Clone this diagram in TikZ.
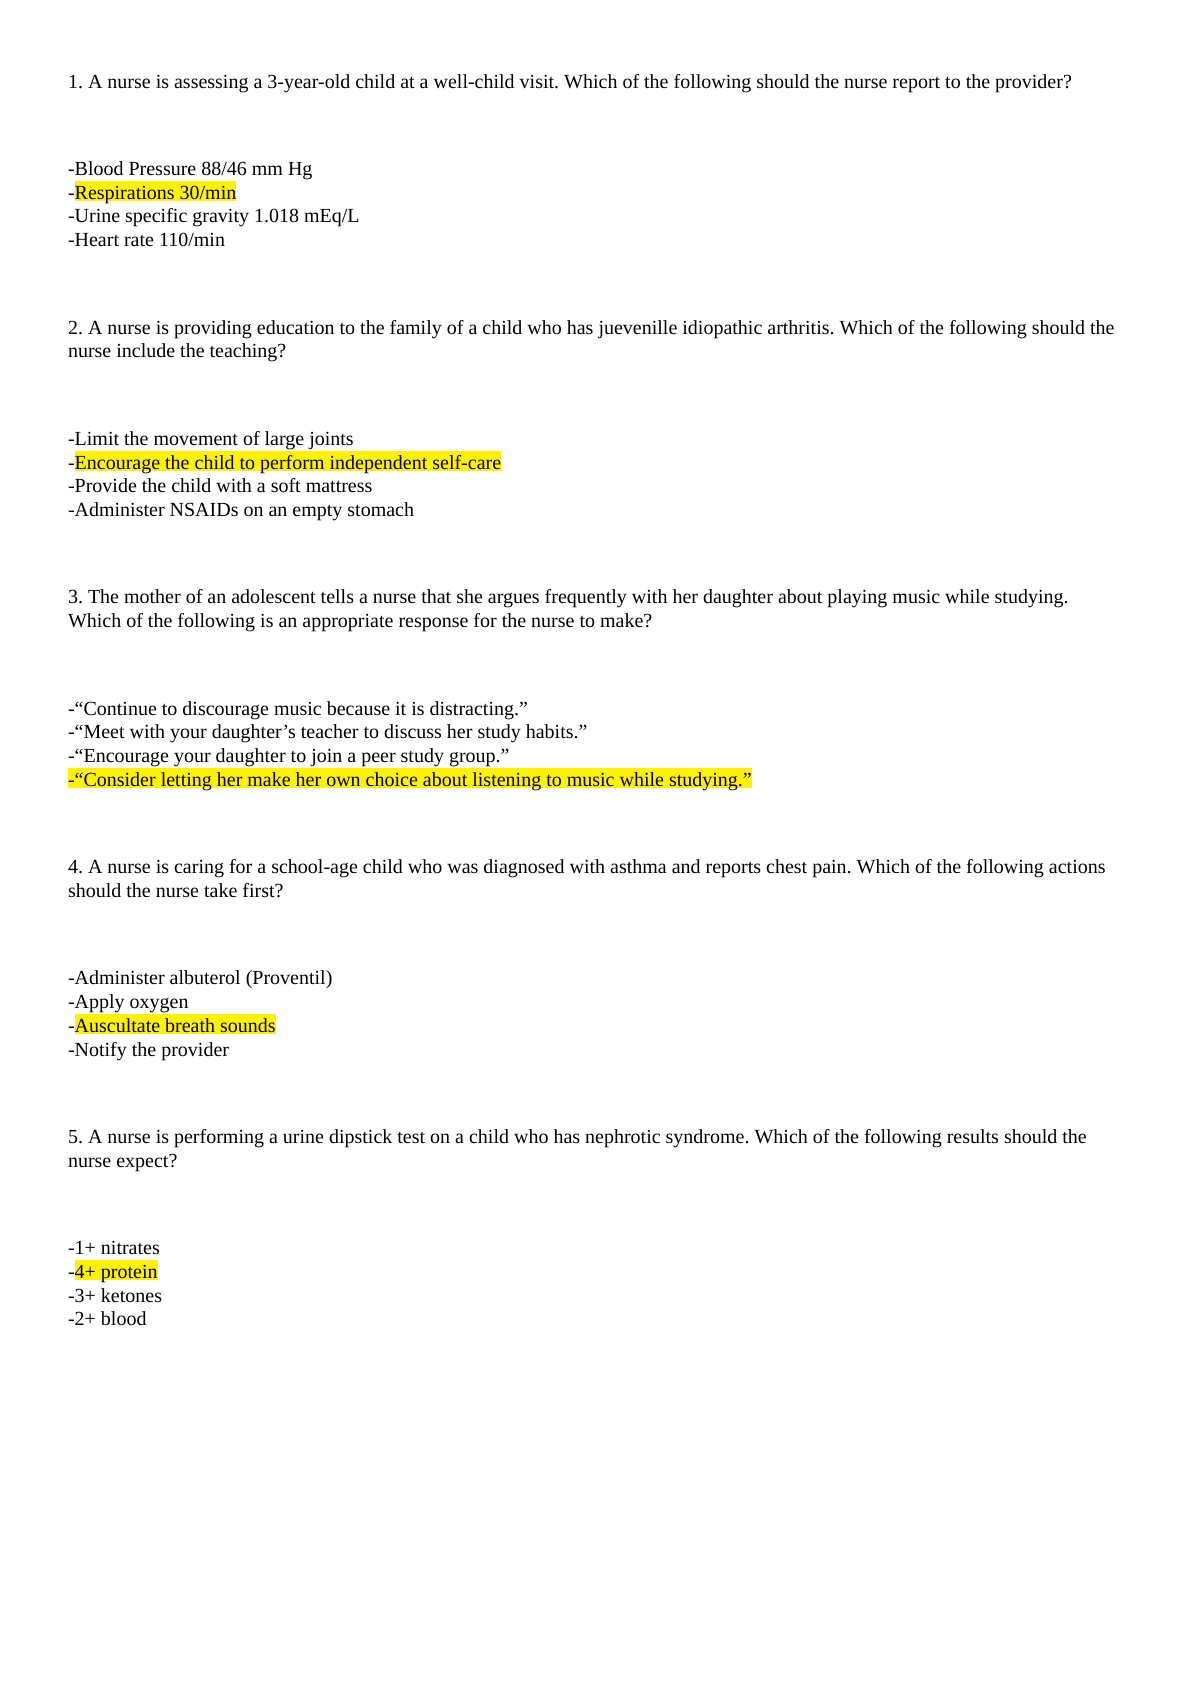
\documentclass[tikz,border=0pt]{standalone}
\usepackage{fontspec}
\setmainfont{Liberation Serif}
\frenchspacing
\begin{document}
\begin{tikzpicture}[x=1pt,y=1pt,
  txt/.style={anchor=base west,inner sep=0pt,outer sep=0pt,font=\fontsize{20}{24}\selectfont\frenchspacing},
  hl/.style={txt,fill=yellow,text height=18.5pt,text depth=2pt}]
\fill[white] (0,0) rectangle (1191,-1684);
\useasboundingbox (0,0) rectangle (1191,-1684);
% Question 1
\node[txt] (q1) at (68,-88) {1. A nurse is assessing a 3-year-old child at a well-child visit. Which of the following should the nurse report to the provider?};
\node[txt] (o11) at (68,-175.5) {-Blood Pressure 88/46 mm Hg};
\node[txt] (o12d) at (68,-199.2) {-};
\node[hl] (o12) at (o12d.base east) {Respirations 30/min};
\node[txt] (o13) at (68,-222.9) {-Urine specific gravity 1.018 mEq/L};
\node[txt] (o14) at (68,-246.6) {-Heart rate 110/min};
% Question 2
\node[txt] (q2a) at (68,-334.1) {2. A nurse is providing education to the family of a child who has juevenille idiopathic arthritis. Which of the following should the};
\node[txt] (q2b) at (68,-357.8) {nurse include the teaching?};
\node[txt] (o21) at (68,-445.3) {-Limit the movement of large joints};
\node[txt] (o22d) at (68,-469.0) {-};
\node[hl] (o22) at (o22d.base east) {Encourage the child to perform independent self-care};
\node[txt] (o23) at (68,-492.7) {-Provide the child with a soft mattress};
\node[txt] (o24) at (68,-516.4) {-Administer NSAIDs on an empty stomach};
% Question 3
\node[txt] (q3a) at (68,-603.9) {3. The mother of an adolescent tells a nurse that she argues frequently with her daughter about playing music while studying.};
\node[txt] (q3b) at (68,-627.6) {Which of the following is an appropriate response for the nurse to make?};
\node[txt] (o31) at (68,-715.1) {-“Continue to discourage music because it is distracting.”};
\node[txt] (o32) at (68,-738.8) {-“Meet with your daughter’s teacher to discuss her study habits.”};
\node[txt] (o33) at (68,-762.5) {-“Encourage your daughter to join a peer study group.”};
\node[hl] (o34) at (68,-786.2) {-“Consider letting her make her own choice about listening to music while studying.”};
% Question 4
\node[txt] (q4a) at (68,-873.7) {4. A nurse is caring for a school-age child who was diagnosed with asthma and reports chest pain. Which of the following actions};
\node[txt] (q4b) at (68,-897.4) {should the nurse take first?};
\node[txt] (o41) at (68,-984.9) {-Administer albuterol (Proventil)};
\node[txt] (o42) at (68,-1008.6) {-Apply oxygen};
\node[txt] (o43d) at (68,-1032.3) {-};
\node[hl] (o43) at (o43d.base east) {Auscultate breath sounds};
\node[txt] (o44) at (68,-1056.0) {-Notify the provider};
% Question 5
\node[txt] (q5a) at (68,-1143.5) {5. A nurse is performing a urine dipstick test on a child who has nephrotic syndrome. Which of the following results should the};
\node[txt] (q5b) at (68,-1167.2) {nurse expect?};
\node[txt] (o51) at (68,-1254.7) {-1+ nitrates};
\node[txt] (o52d) at (68,-1278.4) {-};
\node[hl] (o52) at (o52d.base east) {4+ protein};
\node[txt] (o53) at (68,-1302.1) {-3+ ketones};
\node[txt] (o54) at (68,-1325.8) {-2+ blood};
\end{tikzpicture}
\end{document}
